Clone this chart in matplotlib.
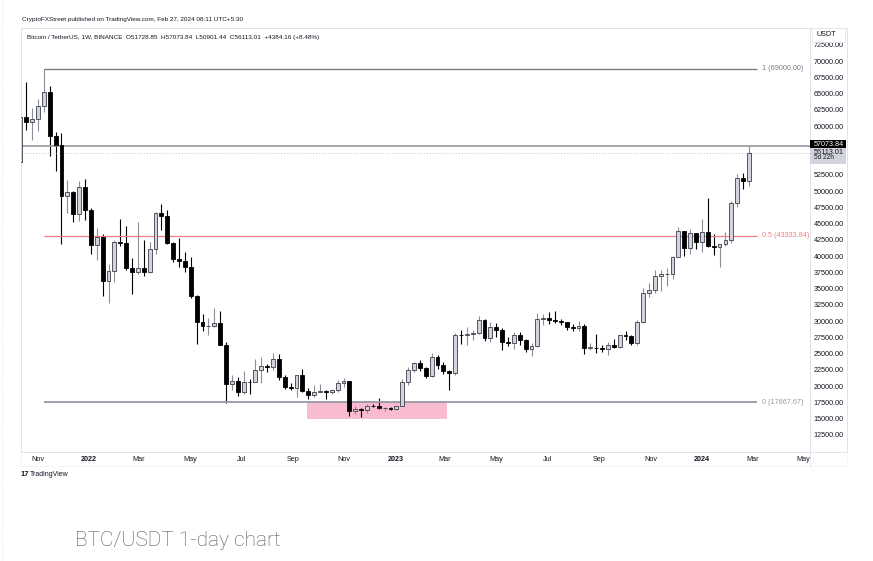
import pandas as pd
import matplotlib
matplotlib.use("Agg")
import matplotlib.pyplot as plt
import matplotlib.dates as mdates
from matplotlib.patches import Rectangle
from matplotlib.lines import Line2D

plt.rcParams['font.family'] = ['Liberation Sans', 'DejaVu Sans']

W, H = 873, 561

# weekly BTC/USDT candles (Binance), Monday opens
weeks = pd.date_range("2021-10-11", periods=125, freq="W-MON")
opens = [54660, 61528, 60852, 61300, 63273, 65466, 58622, 57274, 49396, 50098, 46681, 50775,
         47286, 41864, 43075, 36276, 37920, 42412, 42197, 38362, 37700, 38420, 37777, 41262,
         46827, 46407, 42158, 39680, 39450, 38470, 34060, 30080, 29430, 29445, 29910, 26575,
         20553, 21028, 19297, 20830, 20785, 22580, 23300, 23175, 24306, 21515, 20050, 19950,
         21826, 19420, 18800, 19312, 19416, 19200, 19570, 20600, 20900, 16330, 16700, 16450,
         17100, 17090, 16780, 16840, 16610, 17130, 20870, 22710, 23740, 22930, 21780, 24630,
         23490, 22430, 22160, 28000, 27990, 28170, 28330, 30300, 27590, 29230, 28850, 26900,
         26750, 28070, 27230, 25900, 26340, 30470, 30590, 30290, 30230, 30080, 29270, 29050,
         29420, 26090, 26100, 25970, 25840, 26530, 26250, 27970, 27910, 26860, 29990, 34500,
         35010, 37060, 37360, 37450, 39970, 43990, 41360, 43700, 42280, 43950, 41730, 41550,
         42030, 42580, 48300, 52140, 51728.85]
highs = [62933, 67000, 62927, 64270, 69000, 66281, 59266, 59177, 51936, 50165, 51800, 52088,
         47570, 44500, 43505, 38917, 42656, 45855, 44750, 39843, 45400, 42594, 42325, 46999,
         48189, 47200, 42400, 42976, 40797, 40023, 34243, 31330, 30645, 32222, 31750, 26900,
         21868, 21540, 22527, 21200, 24280, 24668, 23650, 25211, 25135, 21900, 20580, 21860,
         22800, 19956, 20385, 20475, 19520, 19700, 21085, 21480, 21000, 17190, 16840, 17420,
         17425, 18387, 16960, 16970, 17176, 21260, 23080, 23830, 24255, 23180, 25250, 25000,
         23880, 22600, 28390, 28870, 29200, 28800, 31000, 30480, 30040, 29820, 29100, 27660,
         28450, 28450, 27400, 26750, 31430, 31280, 31500, 31800, 30450, 30100, 29730, 30240,
         29660, 26800, 28140, 26430, 26890, 27480, 28000, 28600, 28000, 30400, 35280, 35980,
         38000, 37970, 38420, 40250, 44700, 44050, 44400, 43800, 45880, 49050, 43580, 41850,
         43880, 48590, 52820, 52990, 57073.84]
lows = [54000, 59510, 58000, 59405, 62278, 55600, 53256, 42000, 46750, 45456, 45558, 45678,
        40500, 39650, 34008, 32917, 36250, 41688, 38000, 34322, 37450, 37155, 37578, 40467,
        44200, 42107, 39200, 38536, 37702, 33713, 26700, 28630, 28000, 29282, 26560, 17622,
        19630, 18626, 19000, 18910, 20760, 20706, 22400, 22664, 21136, 19800, 19520, 18540,
        19320, 18125, 18471, 19200, 18190, 18900, 19240, 20000, 15588, 15820, 15476, 16000,
        16900, 16600, 16400, 16450, 16540, 17100, 20400, 22290, 22500, 21350, 21530, 22750,
        21970, 19550, 21900, 26600, 26500, 27200, 28170, 27125, 26940, 27670, 25800, 26360,
        25870, 26500, 25350, 24800, 26250, 29500, 29700, 29950, 29500, 28860, 28580, 28700,
        25170, 25800, 25330, 25360, 24900, 26000, 26000, 27230, 26530, 26550, 29900, 33900,
        34530, 34800, 35630, 36700, 39970, 40200, 40530, 41300, 40750, 41500, 40300, 38555,
        41800, 42260, 47700, 50520, 50901.44]
closes = [61528, 60852, 61300, 63273, 65466, 58622, 57274, 49396, 50098, 46681, 50775, 47286,
          41864, 43075, 36276, 37920, 42412, 42197, 38362, 37700, 38420, 37777, 41262, 46827,
          46407, 42158, 39680, 39450, 38470, 34060, 30080, 29430, 29445, 29910, 26575, 20553,
          21028, 19297, 20830, 20785, 22580, 23300, 23175, 24306, 21515, 20050, 19950, 21826,
          19420, 18800, 19312, 19416, 19200, 19570, 20600, 20900, 16330, 16700, 16450, 17100,
          17090, 16780, 16840, 16610, 17130, 20870, 22710, 23740, 22930, 21780, 24630, 23490,
          22430, 22160, 28000, 27990, 28170, 28330, 30300, 27590, 29230, 28850, 26900, 26750,
          28070, 27230, 25900, 26340, 30470, 30590, 30290, 30230, 30080, 29270, 29050, 29420,
          26090, 26100, 25970, 25840, 26530, 26250, 27970, 27910, 26860, 29990, 34500, 35010,
          37060, 37360, 37450, 39970, 43990, 41360, 43700, 42280, 43950, 41730, 41550, 42030,
          42580, 48300, 52140, 51729, 56113.01]

fib_levels = [69000.00, 43333.84, 17667.67]
fib_labels = ["1 (69000.00)", "0.5 (43333.84)", "0 (17667.67)"]
fib_colors = ["#787b86", "#f77c80", "#9598a1"]
fib_widths = [1.0, 0.9, 1.3]
fib_start, fib_end, fib_text_x = "2021-11-08", "2024-03-07", "2024-03-13"
zone_start, zone_end = "2022-09-18", "2023-03-03"
zone_low, zone_high = 15100, 17667.67
last_high = 57073.84
last_close = 56113.01

price_ticks = [p for p in range(12500, 75000, 2500) if p not in (55000, 57500)]
month_ticks = ["2021-11-01", "2022-01-01", "2022-03-01", "2022-05-01", "2022-07-01", "2022-09-01",
               "2022-11-01", "2023-01-01", "2023-03-01", "2023-05-01", "2023-07-01", "2023-09-01",
               "2023-11-01", "2024-01-01", "2024-03-01", "2024-05-01"]
month_labels = ["Nov", "2022", "Mar", "May", "Jul", "Sep", "Nov", "2023", "Mar", "May", "Jul",
                "Sep", "Nov", "2024", "Mar", "May"]

FS = 5.2


def box(l, t, r, b):
    return [l / W, 1 - b / H, (r - l) / W, (b - t) / H]


def d(s):
    return mdates.date2num(pd.Timestamp(s))


fig = plt.figure(figsize=(W / 100, H / 100), dpi=100)
ax = fig.add_axes(box(21, 28, 810, 452))
axr = fig.add_axes(box(810, 28, 847, 452), sharey=ax)

x = mdates.date2num(weeks)
up = [c >= o for o, c in zip(opens, closes)]
bottoms = [min(o, c) for o, c in zip(opens, closes)]
heights = [max(abs(c - o), 60) for o, c in zip(opens, closes)]
faces = ["#d1d4dc" if u else "#000000" for u in up]
edges = ["#3b3f4a" if u else "#000000" for u in up]
wicks = ["#8c8f99" if u else "#000000" for u in up]

ax.add_patch(Rectangle((d(zone_start), zone_low), d(zone_end) - d(zone_start),
                       zone_high - zone_low, facecolor="#f8bbd0", edgecolor="none", zorder=1))
ax.vlines(x, lows, highs, colors=wicks, linewidth=0.8, zorder=2)
ax.bar(x, heights, bottom=bottoms, width=4.6, color=faces, edgecolor=edges,
       linewidth=0.6, zorder=3)

for lvl, lab, col, lw in zip(fib_levels, fib_labels, fib_colors, fib_widths):
    ax.hlines(lvl, d(fib_start), d(fib_end), color=col, linewidth=lw, zorder=2)
    ax.text(d(fib_text_x), lvl, lab, color=col, fontsize=FS, va="center", ha="left")

ax.axhline(last_high, color="#9598a1", linewidth=1.2, zorder=2)
ax.axhline(last_close, color="#c3c6ce", linewidth=0.7, linestyle=(0, (1, 2)), zorder=2)

ax.set_ylim(10038, 75269)
left = d("2021-11-01") - 20.25
ax.set_xlim(left, left + 940)
ax.set_yticks([])
ax.set_xticks([d(m) for m in month_ticks])
ax.set_xticklabels(month_labels)
ax.tick_params(axis="x", length=0, pad=3, labelsize=FS, labelcolor="#131722")
for t in ax.get_xticklabels():
    if t.get_text().isdigit():
        t.set_fontweight("bold")
for s in ax.spines.values():
    s.set_color("#e0e3eb")
    s.set_linewidth(0.7)

# price scale
axr.set_xlim(0, 1)
axr.tick_params(left=False, labelleft=False, bottom=False, labelbottom=False)
for s in axr.spines.values():
    s.set_color("#e0e3eb")
    s.set_linewidth(0.7)
for p in price_ticks:
    axr.text(0.1, p, f"{p:.2f}", fontsize=FS, va="center", ha="left", color="#131722")
axr.add_patch(Rectangle((0, last_high - 340), 0.97, 1230, facecolor="#000000",
                        edgecolor="none", zorder=3))
axr.text(0.1, last_high + 270, f"{last_high:.2f}", fontsize=FS, va="center", color="white", zorder=4)
axr.add_patch(Rectangle((0, last_high - 2730), 0.97, 2390, facecolor="#d1d4dc",
                        edgecolor="none", zorder=3))
axr.text(0.1, last_close + 30, f"{last_close:.2f}", fontsize=FS, va="center", color="#131722", zorder=4)
axr.text(0.1, last_close - 800, "5d 22h", fontsize=4.7, va="center", color="#131722", zorder=4)
axr.add_patch(Rectangle((0.05, 0.967), 0.9, 0.033, transform=axr.transAxes, facecolor="white",
                        edgecolor="#e0e3eb", linewidth=0.5, zorder=3))
axr.text(0.17, 0.9835, "USDT", transform=axr.transAxes, fontsize=FS, va="center",
         color="#131722", zorder=4)

# time-scale frame
dot = dict(color="#e0e3eb", linewidth=0.6, linestyle=(0, (1, 1.5)))
fig.add_artist(Line2D([21 / W, 847 / W], [1 - 466 / H] * 2, **dot))
fig.add_artist(Line2D([21 / W] * 2, [1 - 452 / H, 1 - 466 / H], **dot))
fig.add_artist(Line2D([847 / W] * 2, [1 - 452 / H, 1 - 466 / H], **dot))
fig.add_artist(Line2D([810 / W] * 2, [1 - 452 / H, 1 - 466 / H], color="#e0e3eb", linewidth=0.6))
fig.add_artist(Line2D([1.5 / W] * 2, [0, 1], **dot))

# header and footer texts
fig.text(22 / W, 1 - 20 / H, "CryptoFXStreet published on TradingView.com, Feb 27, 2024 08:11 UTC+5:30",
         fontsize=4.6, va="center", color="#131722")
fig.text(27 / W, 1 - 37 / H,
         "Bitcoin / TetherUS, 1W, BINANCE  O51728.85  H57073.84  L50901.44  C56113.01  +4384.16 (+8.48%)",
         fontsize=4.55, va="center", color="#131722")
fig.text(21 / W, 1 - 475 / H, "17", fontsize=5.5, fontweight="bold", va="center", color="#131722")
fig.text(30 / W, 1 - 475 / H, "TradingView", fontsize=5, va="center", color="#131722")
fig.text(75 / W, 1 - 541 / H, "BTC/USDT 1-day chart", fontsize=15, va="center",
         color="#555555", family=["Roboto", "DejaVu Sans"], fontweight="light")

fig.savefig("out.png", dpi=100)
